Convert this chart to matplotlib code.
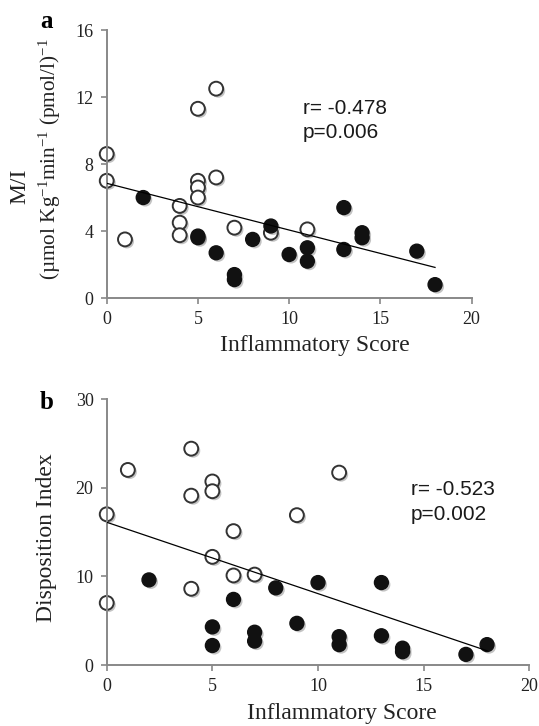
# Two-panel scatter: M/I and Disposition Index vs Inflammatory Score
import matplotlib
matplotlib.use("Agg")
import matplotlib.pyplot as plt
import matplotlib.patheffects as pe

# =========================
# DATA
# =========================
# Panel a: M/I
A_OPEN_X = [0, 0, 1, 4, 4, 4, 5, 5, 5, 5, 6, 6, 7, 9, 11]
A_OPEN_Y = [8.6, 7.0, 3.5, 5.5, 4.5, 3.75, 11.3, 7.0, 6.6, 6.0, 12.5, 7.2, 4.2, 3.9, 4.1]
A_FILL_X = [2, 5, 5, 6, 7, 7, 8, 9, 10, 11, 11, 13, 13, 14, 14, 17, 18]
A_FILL_Y = [6.0, 3.7, 3.6, 2.7, 1.4, 1.1, 3.5, 4.3, 2.6, 3.0, 2.2, 5.4, 2.9, 3.9, 3.6, 2.8, 0.8]
A_FIT = (6.85, -0.279)          # intercept, slope
A_STATS = ["r= -0.478", "p=0.006"]

# Panel b: Disposition Index
B_OPEN_X = [0, 0, 1, 4, 4, 4, 5, 5, 5, 6, 6, 7, 9, 11]
B_OPEN_Y = [17.0, 7.0, 22.0, 24.4, 19.1, 8.6, 20.7, 19.6, 12.2, 15.1, 10.1, 10.2, 16.9, 21.7]
B_FILL_X = [2, 5, 5, 6, 7, 7, 8, 9, 10, 11, 11, 13, 13, 14, 14, 17, 18]
B_FILL_Y = [9.6, 4.3, 2.2, 7.4, 3.7, 2.7, 8.7, 4.7, 9.3, 3.2, 2.3, 9.3, 3.3, 1.9, 1.5, 1.2, 2.3]
B_FIT = (16.1, -0.805)
B_STATS = ["r= -0.523", "p=0.002"]

FIT_X = [0, 18]
X_TICKS = [0, 5, 10, 15, 20]
A_Y_TICKS = [0, 4, 8, 12, 16]
B_Y_TICKS = [0, 10, 20, 30]

# =========================
# STYLE
# =========================
SERIF = "Liberation Serif"
SANS = "Liberation Sans"
SPINE_COLOR = "#888888"
plt.rcParams["mathtext.fontset"] = "custom"
plt.rcParams["mathtext.rm"] = SERIF
plt.rcParams["mathtext.it"] = SERIF + ":italic"

SHADOW = [pe.SimplePatchShadow(offset=(1.5, -1.5), alpha=0.35, shadow_rgbFace="#555555"),
          pe.Normal()]


def style_axes(ax, xmax, ymax, yticks):
    ax.set_xlim(0, xmax)
    ax.set_ylim(0, ymax)
    ax.set_xticks(X_TICKS)
    ax.set_yticks(yticks)
    for side in ("top", "right"):
        ax.spines[side].set_visible(False)
    for side in ("left", "bottom"):
        ax.spines[side].set_color(SPINE_COLOR)
        ax.spines[side].set_linewidth(1.4)
    ax.tick_params(direction="out", length=4.5, width=1.2, color=SPINE_COLOR,
                   pad=5, labelsize=13)
    for lab in ax.get_xticklabels() + ax.get_yticklabels():
        lab.set_fontfamily(SERIF)
        lab.set_color("#222222")


def scatter_panel(ax, ox, oy, fx, fy, fit, stats, tx, ty):
    ax.plot(ox, oy, linestyle="none", marker="o", markersize=10,
            markerfacecolor="white", markeredgecolor="#333333", markeredgewidth=1.4,
            clip_on=False, zorder=2, path_effects=SHADOW)
    ax.plot(fx, fy, linestyle="none", marker="o", markersize=10,
            markerfacecolor="#111111", markeredgecolor="#111111", markeredgewidth=1.0,
            clip_on=False, zorder=2, path_effects=SHADOW)
    b0, b1 = fit
    ax.plot(FIT_X, [b0 + b1 * x for x in FIT_X], color="black", linewidth=0.9, zorder=3)
    ax.text(tx, ty[0], stats[0], transform=ax.transAxes, fontsize=15,
            fontfamily=SANS, va="center", ha="left", color="#1a1a1a")
    ax.text(tx, ty[1], stats[1], transform=ax.transAxes, fontsize=15,
            fontfamily=SANS, va="center", ha="left", color="#1a1a1a")


def main():
    fig = plt.figure(figsize=(5.39, 7.26), dpi=100)

    ax_a = fig.add_axes([0.198, 0.5895, 0.6768, 0.3691])
    scatter_panel(ax_a, A_OPEN_X, A_OPEN_Y, A_FILL_X, A_FILL_Y, A_FIT, A_STATS,
                  0.538, (0.709, 0.616))
    style_axes(ax_a, 20, 16, A_Y_TICKS)

    ax_b = fig.add_axes([0.198, 0.0840, 0.784, 0.3664])
    scatter_panel(ax_b, B_OPEN_X, B_OPEN_Y, B_FILL_X, B_FILL_Y, B_FIT, B_STATS,
                  0.720, (0.658, 0.564))
    style_axes(ax_b, 20, 30, B_Y_TICKS)

    # axis titles and panel letters
    fig.text(314.5 / 539, 1 - 345 / 726, "Inflammatory Score", fontsize=17,
             fontfamily=SERIF, ha="center", va="center", color="#222222")
    fig.text(342 / 539, 1 - 714 / 726, "Inflammatory Score", fontsize=17,
             fontfamily=SERIF, ha="center", va="center", color="#222222")
    fig.text(20 / 539, 1 - 186 / 726, "M/I", fontsize=17, fontfamily=SERIF,
             rotation=90, ha="center", va="center", color="#222222")
    fig.text(50 / 539, 1 - 159 / 726,
             "(µmol Kg$^{\\mathrm{-1}}$min$^{\\mathrm{-1}}$ (pmol/l)$^{\\mathrm{-1}}$",
             fontsize=15.3, fontfamily=SERIF, rotation=90, ha="center", va="center",
             color="#222222")
    fig.text(47 / 539, 1 - 538 / 726, "Disposition Index", fontsize=17,
             fontfamily=SERIF, rotation=90, ha="center", va="center", color="#222222")
    fig.text(47 / 539, 1 - 22 / 726, "a", fontsize=18, fontweight="bold",
             fontfamily=SERIF, ha="center", va="center")
    fig.text(47 / 539, 1 - 402 / 726, "b", fontsize=18, fontweight="bold",
             fontfamily=SERIF, ha="center", va="center")

    fig.savefig("out.png", dpi=100)


if __name__ == "__main__":
    main()
